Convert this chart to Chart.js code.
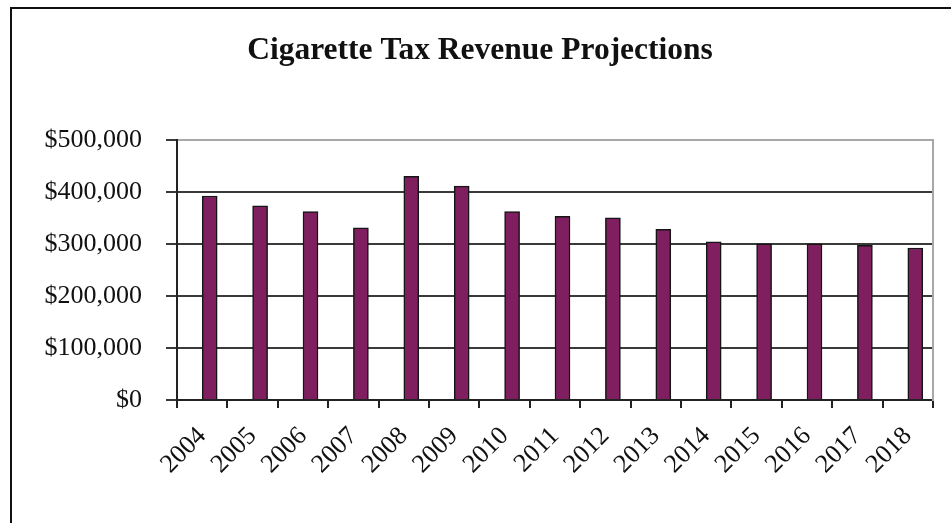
<!DOCTYPE html>
<html lang="en">
<head>
  <meta charset="UTF-8" />
  <title>Cigarette Tax Revenue Projections</title>
  <script src="https://cdn.jsdelivr.net/npm/chart.js@4.4.0/dist/chart.umd.min.js"></script>
  <style>
    html, body { margin: 0; padding: 0; background: #fff; overflow: hidden; }
    #frame { position: absolute; left: 10px; top: 7px; width: 1000px; height: 600px;
             border: 2px solid #111; }
    #chart { position: absolute; left: 0; top: 0; }
  </style>
</head>
<body>
  <div id="frame"></div>
  <canvas id="chart" width="951" height="523"></canvas>

  <script>
    // ---- data ------------------------------------------------------------
    const years   = ['2004', '2005', '2006', '2007', '2008', '2009', '2010', '2011',
                     '2012', '2013', '2014', '2015', '2016', '2017', '2018'];
    const revenue = [392000, 373000, 362000, 331000, 430000, 411000, 362000, 353000,
                     350000, 328000, 304000, 300000, 300000, 297000, 292000];
    const yTicks  = [0, 100000, 200000, 300000, 400000, 500000];

    const serif = "'Liberation Serif', 'Times New Roman', serif";
    const money = v => '$' + Number(v).toLocaleString('en-US');

    new Chart(document.getElementById('chart'), {
      type: 'bar',
      data: {
        labels: years,
        datasets: [
          // empty first series, like the spreadsheet, keeps bars right of centre
          { label: '', data: [] },
          { label: 'Revenue', data: revenue,
            backgroundColor: '#7f1f5f', borderColor: '#151515', borderWidth: 1.5 }
        ]
      },
      options: {
        responsive: false,
        animation: false,
        barThickness: 15,
        layout: { padding: { left: 27, right: 18, top: 0, bottom: 0 } },
        plugins: {
          legend: { display: false },
          tooltip: { enabled: false },
          title: {
            display: true,
            text: 'Cigarette Tax Revenue Projections',
            color: '#111',
            font: { family: serif, size: 31.5, weight: 'bold' },
            padding: { top: 32, bottom: 70 }
          }
        },
        scales: {
          x: {
            afterFit: s => { s.height = 123; },
            grid: { drawOnChartArea: false, tickLength: 8, tickColor: '#222', lineWidth: 2 },
            border: { color: '#222', width: 2 },
            ticks: { color: '#111', font: { family: serif, size: 26 },
                     minRotation: 45, maxRotation: 45, padding: 13 }
          },
          y: {
            min: 0, max: 500000,
            afterFit: s => { s.width = 150; },
            afterBuildTicks: s => { s.ticks = yTicks.map(v => ({ value: v })); },
            grid: {
              color: c => c.tick && c.tick.value === 500000 ? '#a8a8a8' : '#3a3a3a',
              tickColor: '#3a3a3a', lineWidth: 2, tickLength: 11
            },
            border: { color: '#222', width: 2 },
            ticks: { color: '#111', font: { family: serif, size: 26 },
                     padding: 24, callback: v => money(v) }
          },
          y2: {
            position: 'right',
            afterFit: s => { s.width = 0; },
            grid: { drawOnChartArea: false, drawTicks: false },
            border: { color: '#a8a8a8', width: 2 },
            ticks: { display: false }
          }
        }
      }
    });
  </script>
</body>
</html>
